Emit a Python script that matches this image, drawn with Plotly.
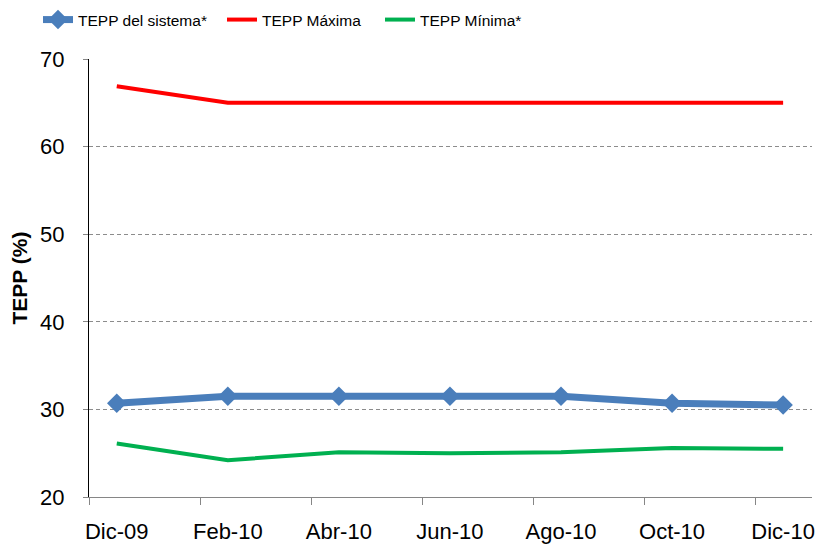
import plotly.graph_objects as go

categories = ["Dic-09", "Feb-10", "Abr-10", "Jun-10", "Ago-10", "Oct-10", "Dic-10"]
tepp_sistema = [30.7, 31.5, 31.5, 31.5, 31.5, 30.7, 30.5]
tepp_maxima = [66.9, 65.0, 65.0, 65.0, 65.0, 65.0, 65.0]
tepp_minima = [26.1, 24.2, 25.1, 25.0, 25.1, 25.6, 25.5]
y_ticks = [20, 30, 40, 50, 60, 70]

xpos = list(range(len(categories)))
font_family = "Liberation Sans, Arial, sans-serif"

W, H = 818, 544
ML, MR, MT, MB = 89, 6, 59, 47
PW = W - ML - MR
PH = H - MT - MB


def px_x(p):
    return (p - ML) / PW


def px_y(p):
    return 1 + (MT - p) / PH


fig = go.Figure()
fig.add_trace(go.Scatter(
    x=xpos, y=tepp_sistema, name="TEPP del sistema*", mode="lines+markers",
    line=dict(color="#4A7EBB", width=7),
    marker=dict(symbol="diamond", size=15, color="#4A7EBB"),
    legend="legend",
))
fig.add_trace(go.Scatter(
    x=xpos, y=tepp_maxima, name="TEPP Máxima", mode="lines",
    line=dict(color="#FF0000", width=4),
    legend="legend2",
))
fig.add_trace(go.Scatter(
    x=xpos, y=tepp_minima, name="TEPP Mínima*", mode="lines",
    line=dict(color="#00B050", width=4),
    legend="legend3",
))

leg_font = dict(family=font_family, size=15.5, color="#000000")


def leg(xp):
    return dict(
        orientation="h", x=px_x(xp), xanchor="left", y=px_y(20), yanchor="middle",
        font=leg_font, bgcolor="rgba(0,0,0,0)", borderwidth=0,
    )


fig.update_layout(
    width=W, height=H,
    margin=dict(l=ML, r=MR, t=MT, b=MB, autoexpand=False),
    paper_bgcolor="white", plot_bgcolor="white",
    font=dict(family=font_family, size=22, color="#000000"),
    showlegend=True,
    legend=leg(38),
    legend2=leg(222),
    legend3=leg(380),
    xaxis=dict(
        range=[-0.25, 6.26], automargin=False,
        tickmode="array", tickvals=xpos, ticktext=categories,
        ticks="", showgrid=False, zeroline=False,
        showline=True, linecolor="#868686", linewidth=1,
        tickfont=dict(size=22), ticklabelstandoff=15,
        minor=dict(tickmode="array", tickvals=[p - 0.25 for p in xpos],
                   ticks="outside", ticklen=7, tickcolor="#868686", tickwidth=1,
                   showgrid=False),
    ),
    yaxis=dict(
        range=[20, 70], automargin=False, tickmode="array", tickvals=y_ticks,
        ticks="outside", ticklen=5, tickcolor="#868686",
        showgrid=True, gridcolor="#8C8C8C", griddash="4px,3px", gridwidth=1,
        zeroline=False, showline=True, linecolor="#000000", linewidth=1,
        tickfont=dict(size=22), ticklabelstandoff=14,
        title=dict(text="<b>TEPP (%)</b>", font=dict(size=21), standoff=6),
    ),
)

fig.write_html("out.html", config={"displayModeBar": False},
               post_script="document.body.style.margin='0px';")
